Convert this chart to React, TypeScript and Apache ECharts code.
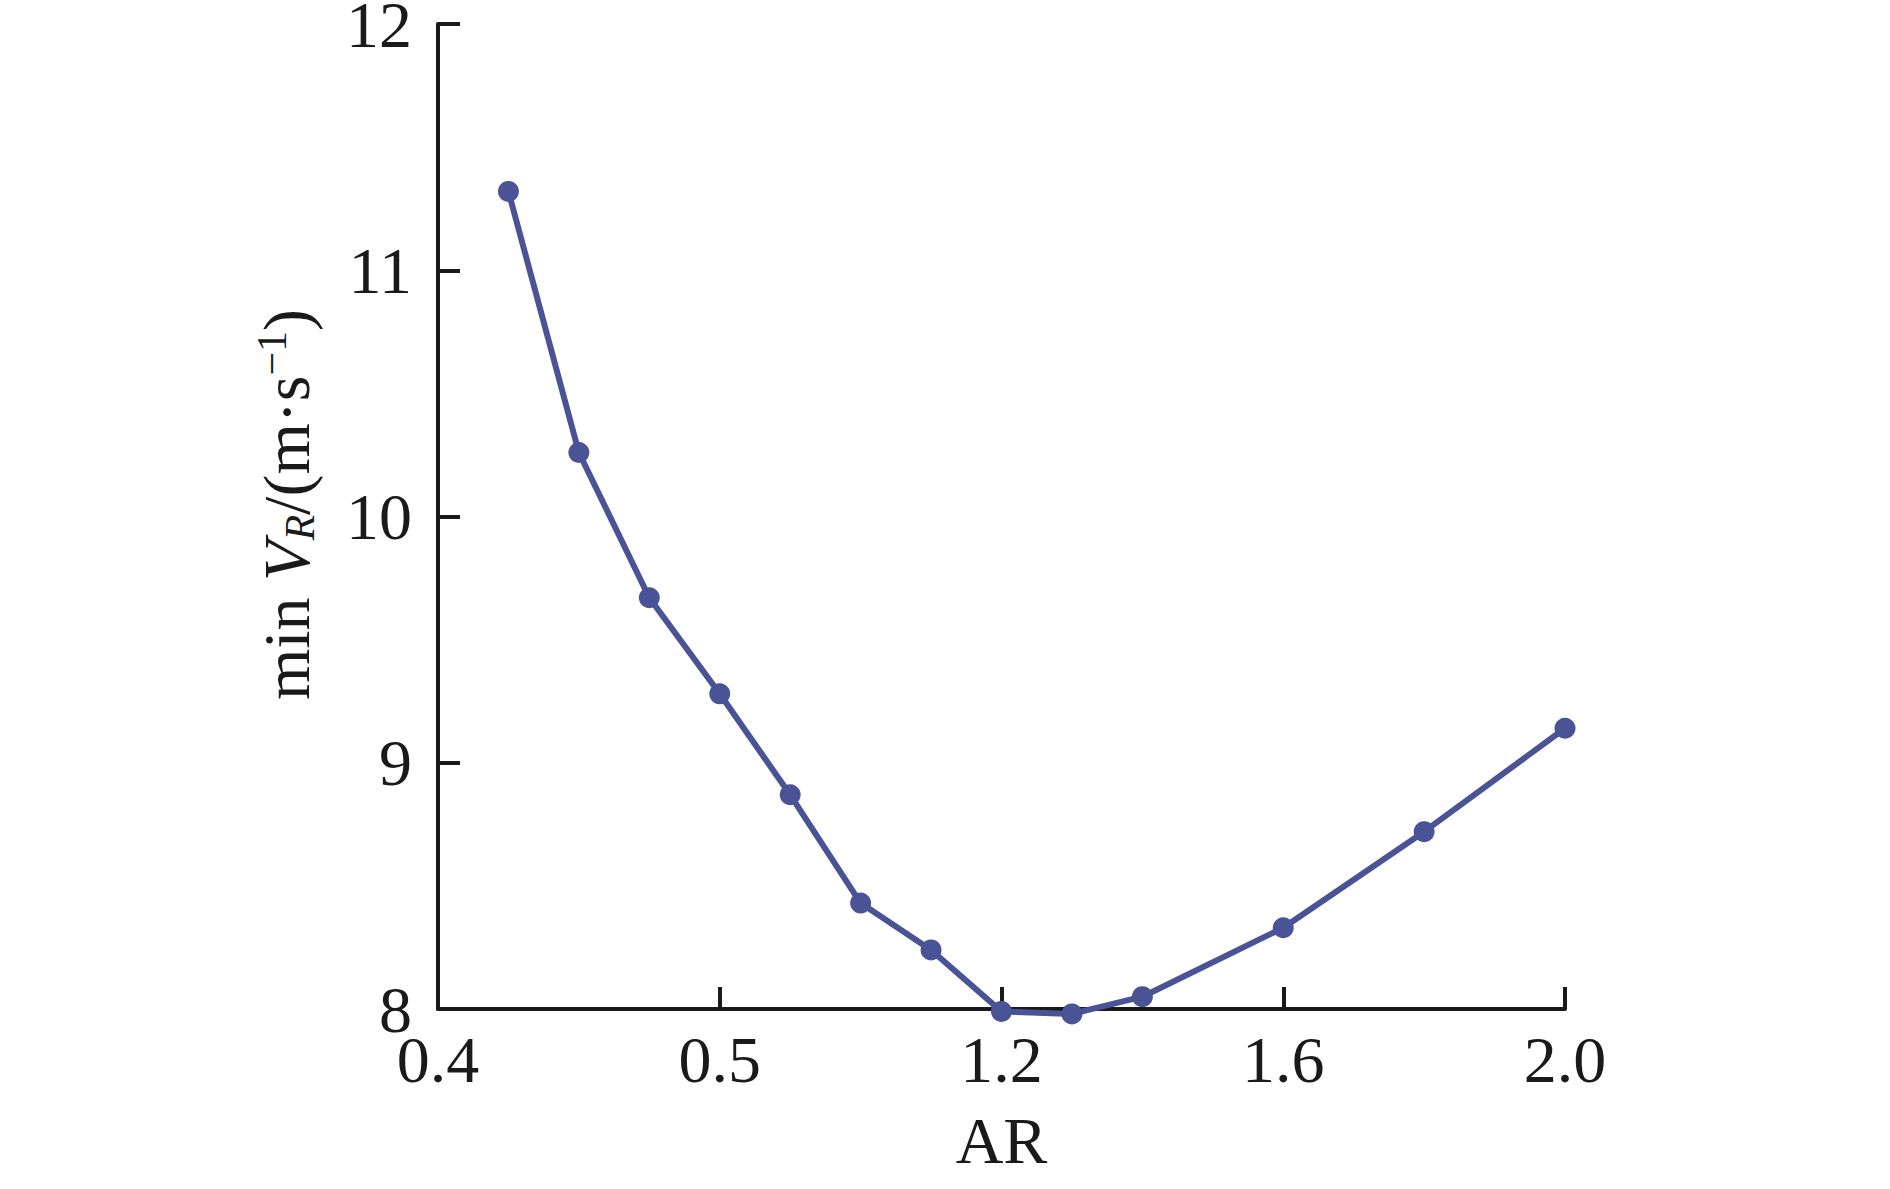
import React, { useEffect, useRef } from "react";
import * as echarts from "echarts";

const arValues = [0.5, 0.6, 0.7, 0.8, 0.9, 1.0, 1.1, 1.2, 1.3, 1.4, 1.6, 1.8, 2.0];
const minVR = [11.32, 10.26, 9.67, 9.28, 8.87, 8.43, 8.24, 7.99, 7.98, 8.05, 8.33, 8.72, 9.14];
const xTickValues = [0.4, 0.8, 1.2, 1.6, 2.0];
const xTickLabels = ["0.4", "0.5", "1.2", "1.6", "2.0"];

const FONT = "'Liberation Serif', 'Times New Roman', serif";
const LINE_COLOR = "#4a5396";
const AXIS_COLOR = "#1a1a1a";

export default function App() {
  const ref = useRef<HTMLDivElement>(null);

  useEffect(() => {
    if (!ref.current) return;
    const chart = echarts.init(ref.current, undefined, { renderer: "svg" });
    const data = arValues.map((x, i) => [x, minVR[i]]);
    chart.setOption({
      animation: false,
      backgroundColor: "#ffffff",
      grid: {
        left: 438,
        right: 325,
        top: 24,
        bottom: 180,
        containLabel: false,
        outerBoundsMode: "none",
      },
      xAxis: {
        type: "value",
        min: 0.4,
        max: 2.0,
        interval: 0.4,
        name: "AR",
        nameLocation: "middle",
        nameGap: 98,
        nameTextStyle: { fontFamily: FONT, fontSize: 66, color: AXIS_COLOR },
        axisLine: { show: true, lineStyle: { color: AXIS_COLOR, width: 4 } },
        axisTick: { show: true, inside: true, length: 22, lineStyle: { color: AXIS_COLOR, width: 4 } },
        axisLabel: {
          fontFamily: FONT,
          fontSize: 66,
          lineHeight: 48,
          color: AXIS_COLOR,
          margin: 26,
          formatter: (v: number) => {
            const i = xTickValues.findIndex((t) => Math.abs(t - v) < 1e-6);
            return i >= 0 ? xTickLabels[i] : "";
          },
        },
        splitLine: { show: false },
      },
      yAxis: {
        type: "value",
        min: 8,
        max: 12,
        interval: 1,
        name: "{n|min }{i|V}{sub|R}{n|/(m·s}{sup|−1}{n|)}",
        nameLocation: "middle",
        nameGap: 117,
        nameRotate: 90,
        nameTextStyle: {
          fontFamily: FONT,
          fontSize: 66,
          color: AXIS_COLOR,
          padding: [0, 0, 0, 24],
          rich: {
            n: { fontFamily: FONT, fontSize: 66, lineHeight: 70, color: AXIS_COLOR },
            i: { fontFamily: FONT, fontSize: 66, lineHeight: 70, fontStyle: "italic", color: AXIS_COLOR },
            sub: { fontFamily: FONT, fontSize: 42, lineHeight: 40, fontStyle: "italic", verticalAlign: "bottom", color: AXIS_COLOR },
            sup: { fontFamily: FONT, fontSize: 42, lineHeight: 40, verticalAlign: "top", color: AXIS_COLOR },
          },
        },
        axisLine: { show: true, lineStyle: { color: AXIS_COLOR, width: 4 } },
        axisTick: { show: true, inside: true, length: 22, lineStyle: { color: AXIS_COLOR, width: 4 } },
        axisLabel: { fontFamily: FONT, fontSize: 66, lineHeight: 48, color: AXIS_COLOR, margin: 26 },
        splitLine: { show: false },
      },
      series: [
        {
          type: "line",
          data,
          clip: false,
          symbol: "circle",
          symbolSize: 21,
          lineStyle: { color: LINE_COLOR, width: 6 },
          itemStyle: { color: LINE_COLOR },
        },
      ],
    });
    return () => chart.dispose();
  }, []);

  return (
    <div
      ref={ref}
      style={{ position: "fixed", left: 0, top: 0, width: 1890, height: 1189, background: "#fff" }}
    />
  );
}
